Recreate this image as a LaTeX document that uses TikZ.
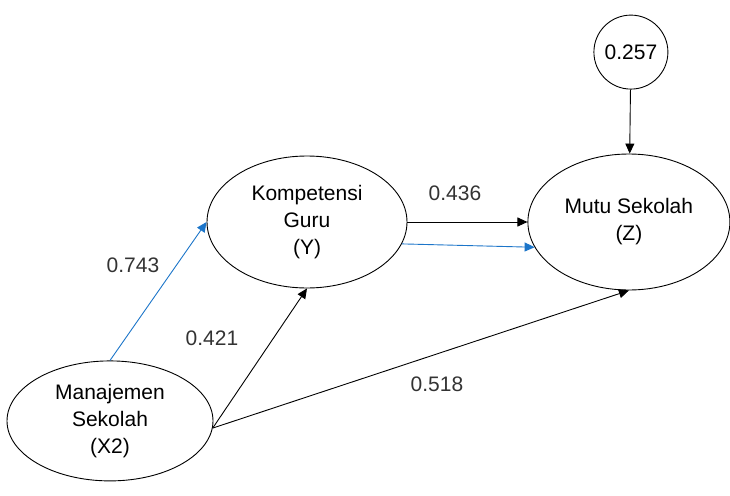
\documentclass[tikz,border=0pt]{standalone}
\usepackage{fontspec}
\setmainfont{Liberation Sans}
\usetikzlibrary{shapes.geometric, arrows.meta, positioning}
\definecolor{pathblue}{RGB}{28,117,201}
\tikzstyle{latent} = [ellipse, draw=black, line width=0.9pt, inner sep=0pt, align=center, font=\fontsize{21}{27}\selectfont]
\tikzstyle{resid} = [circle, draw=black, line width=0.9pt, inner sep=0pt, minimum size=74pt, font=\fontsize{21}{24}\selectfont]
\tikzstyle{coef} = [font=\fontsize{21}{24}\selectfont, text=black!80]
\tikzstyle{arrow} = [line width=0.9pt, -{Triangle[length=10pt,width=9pt]}]

\begin{document}
\begin{tikzpicture}[x=1pt, y=-1pt, node distance=120pt]
\useasboundingbox (0,0) rectangle (730,495);

% Kompetensi Guru
\node (kompetensi) [latent, minimum width=200pt, minimum height=132pt] at (307,222) {
    Kompetensi \\
    Guru \\
    (Y)
};

% Mutu Sekolah
\node (mutu) [latent, minimum width=202pt, minimum height=136pt, right=of kompetensi] {
    Mutu Sekolah \\
    (Z)
};

% Residual
\node (residual) [resid, above=64pt of mutu, xshift=2pt] {0.257};

% Manajemen Sekolah
\node (manajemen) [latent, minimum width=206pt, minimum height=120pt, below=72pt of kompetensi, xshift=-197pt] {
    Manajemen \\
    Sekolah \\
    (X2)
};

% Coefficients
\node (c743) [coef] at (133,265) {0.743};
\node (c421) [coef] at (212,338) {0.421};
\node (c436) [coef] at (455,193) {0.436};
\node (c518) [coef] at (437,384) {0.518};

% Arrows
\draw [arrow] (residual) -- (mutu);
\draw [arrow] (kompetensi.east) -- (mutu.west);
\draw [arrow, pathblue] (kompetensi.-13) -- (mutu.195);
\draw [arrow, pathblue] (manajemen.north) -- (kompetensi.west);
\draw [arrow] (manajemen.-4) -- (kompetensi.south);
\draw [arrow] (manajemen.-4) -- (mutu.south);

\end{tikzpicture}
\end{document}
